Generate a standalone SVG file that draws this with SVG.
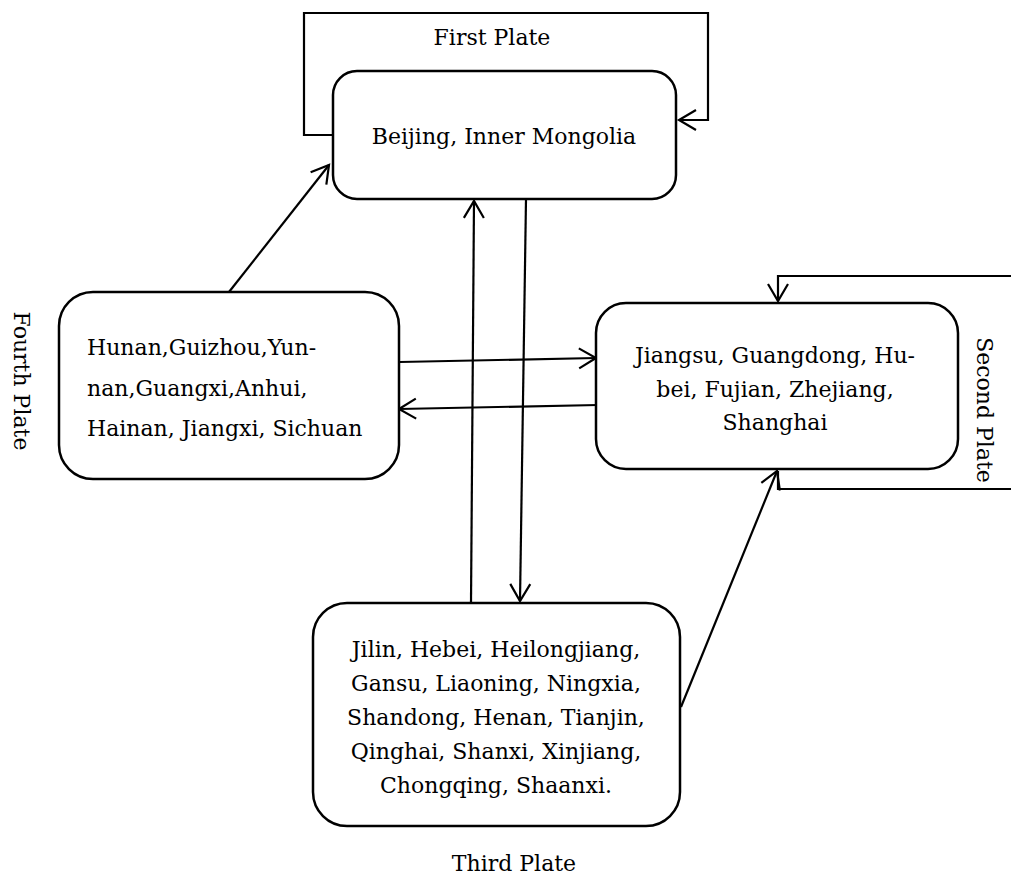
<svg xmlns="http://www.w3.org/2000/svg" width="1011" height="874" viewBox="0 0 1011 874">
<style>
.box{fill:#fff;stroke:#000;stroke-width:2.5}
.t{font-family:"DejaVu Serif","Liberation Serif",serif;font-size:22px;fill:#000}
.c{text-anchor:middle}
.ln{fill:none;stroke:#000;stroke-width:2.2}
</style>
<defs>
<marker id="ah" markerUnits="userSpaceOnUse" markerWidth="30" markerHeight="30" refX="0" refY="0" viewBox="-20 -15 25 30" orient="auto" overflow="visible">
<path d="M-17,-10 L0,0 L-17,10" fill="none" stroke="#000" stroke-width="2.2"/>
</marker>
</defs>
<rect width="1011" height="874" fill="#fff"/>
<g id="connectors">
<path class="ln" d="M333,135 H304 V13 H708 V120 H679" marker-end="url(#ah)"/>
<path class="ln" d="M1015,276 H778 V301" marker-end="url(#ah)"/>
<path class="ln" d="M778,471 V489 H1015"/>
<path class="ln" d="M229,292 L329,165" marker-end="url(#ah)"/>
<path class="ln" d="M471,603 L474,201" marker-end="url(#ah)"/>
<path class="ln" d="M526,199 L520,601" marker-end="url(#ah)"/>
<path class="ln" d="M400,362 L596,358" marker-end="url(#ah)"/>
<path class="ln" d="M598,405 L399,409" marker-end="url(#ah)"/>
<path class="ln" d="M681,707 L777,471" marker-end="url(#ah)"/>
</g>
<g id="label-first"><text class="t c" x="492" y="45">First Plate</text></g>
<g id="label-second"><text class="t c" transform="translate(977,410) rotate(90)">Second Plate</text></g>
<g id="label-third"><text class="t c" x="514" y="871">Third Plate</text></g>
<g id="label-fourth"><text class="t c" transform="translate(14,381) rotate(90)">Fourth Plate</text></g>
<g id="node-first">
<rect class="box" x="333" y="71" width="343" height="128" rx="24"/>
<text class="t c" x="504" y="144">Beijing, Inner Mongolia</text>
</g>
<g id="node-fourth">
<rect class="box" x="59" y="292" width="340" height="187" rx="34"/>
<text class="t" x="87" y="355">Hunan,Guizhou,Yun-</text>
<text class="t" x="87" y="396">nan,Guangxi,Anhui,</text>
<text class="t" x="87" y="436">Hainan, Jiangxi, Sichuan</text>
</g>
<g id="node-second">
<rect class="box" x="596" y="303" width="362" height="166" rx="30"/>
<text class="t c" x="775" y="363">Jiangsu, Guangdong, Hu-</text>
<text class="t c" x="775" y="397">bei, Fujian, Zhejiang,</text>
<text class="t c" x="775" y="430">Shanghai</text>
</g>
<g id="node-third">
<rect class="box" x="313" y="603" width="367" height="223" rx="34"/>
<text class="t c" x="496" y="657">Jilin, Hebei, Heilongjiang,</text>
<text class="t c" x="496" y="691">Gansu, Liaoning, Ningxia,</text>
<text class="t c" x="496" y="725">Shandong, Henan, Tianjin,</text>
<text class="t c" x="496" y="759">Qinghai, Shanxi, Xinjiang,</text>
<text class="t c" x="496" y="793">Chongqing, Shaanxi.</text>
</g>
</svg>
